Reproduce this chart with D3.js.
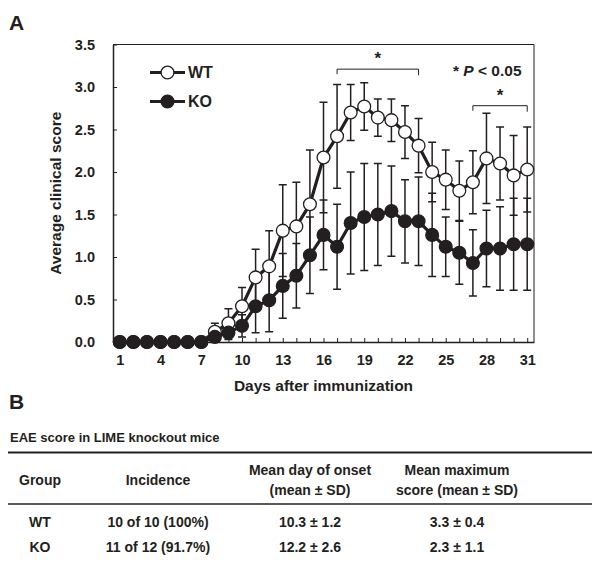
<!DOCTYPE html>
<html>
<head>
<meta charset="utf-8">
<script src="https://cdn.jsdelivr.net/npm/d3@7"></script>
<style>
  html, body { margin: 0; padding: 0; background: #fff; }
  svg text { font-family: "Liberation Sans", Arial, Helvetica, sans-serif; font-weight: bold; fill: #231f20; }
</style>
</head>
<body>
<svg id="fig" width="592" height="564"></svg>
<script>
// ---- data ----
const days = [1, 2, 3, 4, 5, 6, 7, 8, 9, 10, 11, 12, 13, 14, 15, 16, 17, 18, 19, 20, 21, 22, 23, 24, 25, 26, 27, 28, 29, 30, 31]
const dayLabels = [1, 4, 7, 10, 13, 16, 19, 22, 25, 28, 31]
const scoreTicks = [0, 0.5, 1, 1.5, 2, 2.5, 3, 3.5]

const wtMean = [0, 0, 0, 0, 0, 0, 0, 0.12, 0.22, 0.42, 0.76, 0.89, 1.31, 1.36, 1.62, 2.17, 2.42, 2.70, 2.77, 2.64, 2.61, 2.47, 2.31, 2.00, 1.91, 1.78, 1.88, 2.16, 2.10, 1.96, 2.03]
const wtSd = [0, 0, 0, 0, 0, 0, 0, 0.10, 0.17, 0.22, 0.33, 0.42, 0.54, 0.52, 0.64, 0.65, 0.61, 0.33, 0.28, 0.22, 0.25, 0.31, 0.32, 0.35, 0.35, 0.35, 0.37, 0.53, 0.43, 0.47, 0.50]
const koMean = [0, 0, 0, 0, 0, 0, 0, 0.06, 0.11, 0.19, 0.42, 0.49, 0.66, 0.78, 1.02, 1.26, 1.12, 1.40, 1.47, 1.50, 1.54, 1.42, 1.42, 1.26, 1.12, 1.05, 0.93, 1.10, 1.10, 1.15, 1.15]
const koSd = [0, 0, 0, 0, 0, 0, 0, 0.05, 0.08, 0.13, 0.31, 0.37, 0.38, 0.38, 0.45, 0.41, 0.50, 0.60, 0.63, 0.60, 0.53, 0.49, 0.52, 0.49, 0.35, 0.37, 0.39, 0.45, 0.49, 0.54, 0.54]

// significance brackets: first day, last day, score level
const brackets = [
  { from: 17, to: 23, level: 3.21 },
  { from: 27, to: 31, level: 2.78 },
]

const tableTitle = "EAE score in LIME knockout mice"
const tableHeader = [["Group"], ["Incidence"], ["Mean day of onset", "(mean \u00b1 SD)"], ["Mean maximum", "score (mean \u00b1 SD)"]]
const tableRows = [
  ["WT", "10 of 10 (100%)", "10.3 \u00b1 1.2", "3.3 \u00b1 0.4"],
  ["KO", "11 of 12 (91.7%)", "12.2 \u00b1 2.6", "2.3 \u00b1 1.1"],
]

const ink = "#231f20"

const groups = [
  { name: "WT", mean: wtMean, sd: wtSd, fill: "#fff" },
  { name: "KO", mean: koMean, sd: koSd, fill: ink },
]

const initChart = (svg) => {
  const x = d3.scaleLinear().domain([0.5, 31.5]).range([113, 534])
  const y = d3.scaleLinear().domain([0, 3.5]).range([342, 44.5])

  svg.append("text").attr("x", 9).attr("y", 30).style("font-size", "21px").text("A")

  // frame (top + right)
  svg.append("path")
    .attr("d", `M${x(0.5)},${y(3.5)}H${x(31.5)}V${y(0)}`)
    .attr("fill", "none").attr("stroke", ink).attr("stroke-width", 1)

  const xAxis = svg.append("g")
    .attr("transform", `translate(0,${y(0)})`)
    .call(d3.axisBottom(x).tickValues(days).tickSize(-4).tickSizeOuter(0).tickPadding(13)
      .tickFormat(d => dayLabels.includes(d) ? d : ""))
  xAxis.selectAll("text").style("font-size", "14.5px")

  const yAxis = svg.append("g")
    .attr("transform", `translate(${x(0.5)},0)`)
    .call(d3.axisLeft(y).tickValues(scoreTicks).tickSize(-4).tickSizeOuter(0).tickPadding(18)
      .tickFormat(d3.format(".1f")))
  yAxis.selectAll("text").style("font-size", "14.5px")

  svg.selectAll(".domain").attr("stroke", ink).attr("stroke-width", 1.5)
  svg.selectAll(".tick line").attr("stroke", ink).attr("stroke-width", 1)

  svg.append("text")
    .attr("x", (x(0.5) + x(31.5)) / 2).attr("y", 391)
    .attr("text-anchor", "middle").style("font-size", "15.5px")
    .text("Days after immunization")

  svg.append("text")
    .attr("transform", `translate(61,${(y(0) + y(3.5)) / 2}) rotate(-90)`)
    .attr("text-anchor", "middle").style("font-size", "15.5px")
    .text("Average clinical score")

  // error bars
  const cap = 4
  groups.forEach(g => {
    const bars = svg.append("g").attr("class", `err-${g.name}`)
      .attr("stroke", ink).attr("stroke-width", 1.5).attr("fill", "none")
    days.forEach((d, i) => {
      if (!g.sd[i]) return
      const cx = x(d), top = y(g.mean[i] + g.sd[i]), bot = y(g.mean[i] - g.sd[i])
      bars.append("path")
        .attr("d", `M${cx},${top}V${bot}M${cx - cap},${top}H${cx + cap}M${cx - cap},${bot}H${cx + cap}`)
    })
  })

  const line = d3.line().x((d, i) => x(days[i])).y(d => y(d))

  groups.forEach(g => {
    svg.append("path")
      .attr("d", line(g.mean))
      .attr("fill", "none").attr("stroke", ink).attr("stroke-width", 3.2)
      .attr("stroke-linejoin", "round")
    svg.append("g").selectAll("circle")
      .data(g.mean)
      .enter()
      .append("circle")
        .attr("cx", (d, i) => x(days[i]))
        .attr("cy", d => y(d))
        .attr("r", 6.4)
        .attr("fill", g.fill)
        .attr("stroke", ink).attr("stroke-width", 1.3)
  })

  // legend
  groups.forEach((g, i) => {
    const ly = 72.5 + i * 29
    svg.append("line").attr("x1", 150).attr("x2", 185).attr("y1", ly).attr("y2", ly)
      .attr("stroke", ink).attr("stroke-width", 3)
    svg.append("circle").attr("cx", 167.5).attr("cy", ly).attr("r", 6.4)
      .attr("fill", g.fill).attr("stroke", ink).attr("stroke-width", 1.3)
    svg.append("text").attr("x", 188).attr("y", ly + 5.5).style("font-size", "16px").text(g.name)
  })

  // p-value note
  const note = svg.append("text").attr("x", 453).attr("y", 76).style("font-size", "15.5px")
  note.append("tspan").text("* ")
  note.append("tspan").style("font-style", "italic").text("P")
  note.append("tspan").text(" < 0.05")

  // brackets
  brackets.forEach(b => {
    const by = y(b.level)
    svg.append("path")
      .attr("d", `M${x(b.from)},${by + 5}V${by}H${x(b.to)}V${by + 6}`)
      .attr("fill", "none").attr("stroke", ink).attr("stroke-width", 1)
    svg.append("text")
      .attr("x", (x(b.from) + x(b.to)) / 2).attr("y", by - 5)
      .attr("text-anchor", "middle").style("font-size", "17px").text("*")
  })
}

const initTable = (svg) => {
  svg.append("text").attr("x", 9).attr("y", 409).style("font-size", "21px").text("B")

  svg.append("text").attr("x", 10).attr("y", 442).style("font-size", "13px").text(tableTitle)

  const colX = [40, 158, 310, 457]

  svg.append("line").attr("x1", 8).attr("x2", 592).attr("y1", 452.5).attr("y2", 452.5)
    .attr("stroke", ink).attr("stroke-width", 2)
  svg.append("line").attr("x1", 8).attr("x2", 592).attr("y1", 504).attr("y2", 504)
    .attr("stroke", ink).attr("stroke-width", 1.5)

  tableHeader.forEach((lines, c) => {
    const t = svg.append("text").attr("text-anchor", "middle").style("font-size", "14px")
    const y0 = lines.length === 1 ? 485 : 475
    lines.forEach((s, k) => {
      t.append("tspan").attr("x", colX[c]).attr("y", y0 + k * 20).text(s)
    })
  })

  tableRows.forEach((row, r) => {
    row.forEach((s, c) => {
      svg.append("text")
        .attr("x", colX[c]).attr("y", 527 + r * 25)
        .attr("text-anchor", "middle").style("font-size", "14px")
        .text(s)
    })
  })
}

(() => {
  const svg = d3.select("#fig")
  initChart(svg)
  initTable(svg)
})()
</script>
</body>
</html>
